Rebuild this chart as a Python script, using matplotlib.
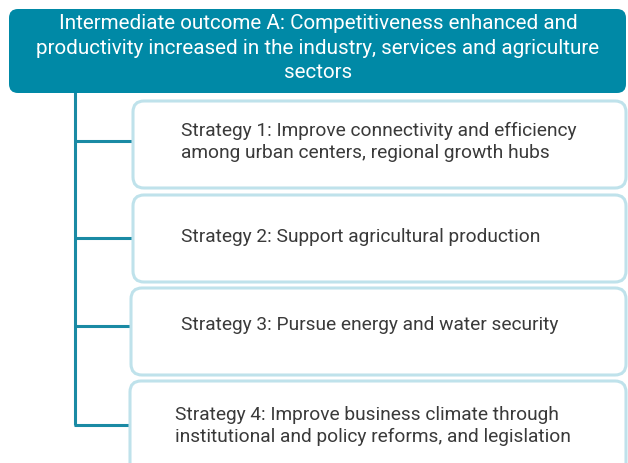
import matplotlib
matplotlib.use("Agg")
import matplotlib.pyplot as plt
from matplotlib.patches import FancyBboxPatch

TEAL = "#0089A6"
LINE = "#1A8AA4"
EDGE = "#BFE2EB"
INK = "#3A3A3A"

header = ("Intermediate outcome A: Competitiveness enhanced and\n"
          "productivity increased in the industry, services and agriculture\n"
          "sectors")
strategies = [
    "Strategy 1: Improve connectivity and efficiency\namong urban centers, regional growth hubs",
    "Strategy 2: Support agricultural production",
    "Strategy 3: Pursue energy and water security",
    "Strategy 4: Improve business climate through\ninstitutional and policy reforms, and legislation",
]

# layout in pixel units (628 x 464 canvas)
box_tops = [102, 196, 289, 382]
box_bottoms = [189, 283, 376, 475]
connector_y = [142, 239, 327, 426]
text_y = [142, 237, 325, 426]
text_x = [181, 181, 181, 175]
box_left = [133, 133, 131, 130]

plt.rcParams["font.family"] = ["Roboto", "DejaVu Sans"]

fig = plt.figure(figsize=(6.28, 4.64), dpi=100)
ax = fig.add_axes([0, 0, 1, 1])
ax.set_xlim(0, 628)
ax.set_ylim(464, 0)
ax.axis("off")

# header box
ax.add_patch(FancyBboxPatch((9, 10), 617, 84, boxstyle="round,pad=0,rounding_size=9",
                            facecolor=TEAL, edgecolor="none", zorder=2))
ax.text(318, 48, header, ha="center", va="center", color="white", fontsize=14.9,
        linespacing=1.38, zorder=3)

# vertical spine
ax.plot([75, 75], [93, connector_y[-1]], color=LINE, linewidth=2.2, solid_capstyle="butt", zorder=1)

for label, top, bot, cy, ty, tx, left in zip(strategies, box_tops, box_bottoms,
                                              connector_y, text_y, text_x, box_left):
    ax.plot([74, left], [cy, cy], color=LINE, linewidth=2.2, solid_capstyle="butt", zorder=1)
    ax.add_patch(FancyBboxPatch((left, top), 626 - left, bot - top,
                                boxstyle="round,pad=0,rounding_size=11",
                                facecolor="white", edgecolor=EDGE, linewidth=2.2, zorder=2))
    ax.text(tx, ty, label, ha="left", va="center", color=INK, fontsize=13.8,
            linespacing=1.3, zorder=3)

fig.savefig("out.png", dpi=100)
